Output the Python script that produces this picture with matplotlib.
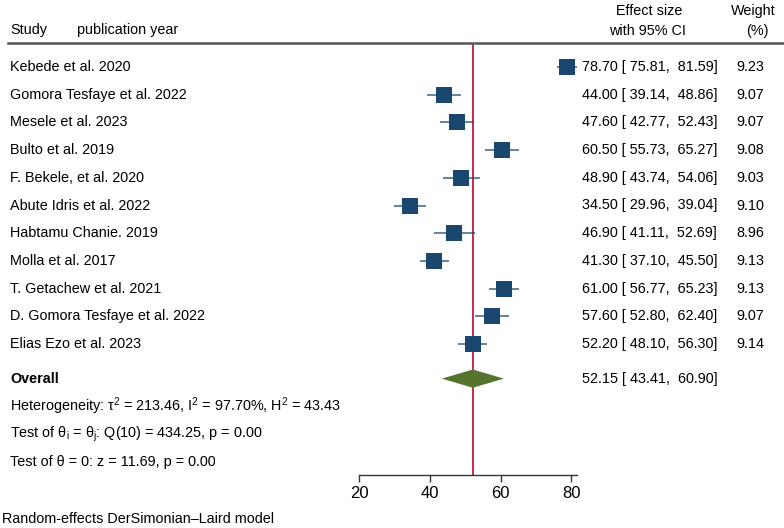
import matplotlib
matplotlib.use("Agg")
import matplotlib.pyplot as plt
import matplotlib.transforms as mtransforms
import numpy as np

studies = ["Kebede et al. 2020", "Gomora Tesfaye et al. 2022", "Mesele et al. 2023",
           "Bulto et al. 2019", "F. Bekele, et al. 2020", "Abute Idris et al. 2022",
           "Habtamu Chanie. 2019", "Molla et al. 2017", "T. Getachew et al. 2021",
           "D. Gomora Tesfaye et al. 2022", "Elias Ezo et al. 2023"]
effect = [78.70, 44.00, 47.60, 60.50, 48.90, 34.50, 46.90, 41.30, 61.00, 57.60, 52.20]
lower = [75.81, 39.14, 42.77, 55.73, 43.74, 29.96, 41.11, 37.10, 56.77, 52.80, 48.10]
upper = [81.59, 48.86, 52.43, 65.27, 54.06, 39.04, 52.69, 45.50, 65.23, 62.40, 56.30]
weight = [9.23, 9.07, 9.07, 9.08, 9.03, 9.10, 8.96, 9.13, 9.13, 9.07, 9.14]
overall = 52.15
overall_lo = 43.41
overall_hi = 60.90
xticks = [20, 40, 60, 80]

plt.rcParams['font.family'] = ['Liberation Sans', 'DejaVu Sans']
FS = 10.4

W, H = 784, 528
fig = plt.figure(figsize=(W / 100, H / 100), dpi=100)

# plot region in pixels
x0, x1 = 359, 577
ytop, ybot = 43, 475
ax = fig.add_axes([x0 / W, 1 - ybot / H, (x1 - x0) / W, (ybot - ytop) / H])
row0, rowstep = 67, 27.7
ax.set_xlim(20, max(upper))
ax.set_ylim((ybot - row0) / rowstep, (ytop - row0) / rowstep)

navy = "#1a476f"
green = "#55752f"
red = "#c10534"

ys = np.arange(len(studies))
for y, e, lo, hi, w in zip(ys, effect, lower, upper, weight):
    ax.plot([lo, hi], [y, y], color=navy, lw=1.1, alpha=0.85, solid_capstyle='butt', zorder=2)
    ax.plot([e], [y], marker='s', ms=11.8 * np.sqrt(w / 9.1), color=navy,
            mew=0, zorder=3, linestyle='none')

y_ov = 11.25
ax.fill([overall_lo, overall, overall_hi, overall],
        [y_ov, y_ov - 0.33, y_ov, y_ov + 0.33], color=green, lw=0, zorder=3)
ax.axvline(overall, color=red, lw=1.2, zorder=1)

for s in ['top', 'right', 'left']:
    ax.spines[s].set_visible(False)
ax.spines['bottom'].set_color('#333333')
ax.spines['bottom'].set_linewidth(1.0)
ax.set_yticks([])
ax.set_xticks(xticks)
ax.tick_params(axis='x', length=5, width=1.0, color='#333333', labelsize=12, pad=3)

tr = mtransforms.blended_transform_factory(fig.transFigure, ax.transData)
def px(x):
    return x / W

# header
fig.text(px(10), 1 - 30 / H, "Study", fontsize=FS, va='center', ha='left')
fig.text(px(77), 1 - 30 / H, "publication year", fontsize=FS, va='center', ha='left')
fig.text(px(649), 1 - 11 / H, "Effect size", fontsize=FS, va='center', ha='center')
fig.text(px(647), 1 - 31 / H, "with 95% CI", fontsize=FS, va='center', ha='center')
fig.text(px(753), 1 - 11 / H, "Weight", fontsize=FS, va='center', ha='center')
fig.text(px(757), 1 - 31 / H, "(%)", fontsize=FS, va='center', ha='center')
fig.add_artist(plt.Line2D([px(8), px(784)], [1 - 42.5 / H, 1 - 42.5 / H],
                          color='#555555', lw=1.8, transform=fig.transFigure))

for y, s, e, lo, hi, w in zip(ys, studies, effect, lower, upper, weight):
    ax.text(px(10), y, s, transform=tr, fontsize=FS, va='center', ha='left', clip_on=False)
    ax.text(px(582), y, f"{e:.2f} [ {lo:.2f},  {hi:.2f}]", transform=tr, fontsize=FS,
            va='center', ha='left', clip_on=False)
    ax.text(px(764), y, f"{w:.2f}", transform=tr, fontsize=FS, va='center', ha='right',
            clip_on=False)

ax.text(px(10), y_ov, "Overall", transform=tr, fontsize=FS, fontweight='bold',
        va='center', ha='left', clip_on=False)
ax.text(px(582), y_ov, f"{overall:.2f} [ {overall_lo:.2f},  {overall_hi:.2f}]", transform=tr,
        fontsize=FS, va='center', ha='left', clip_on=False)
ax.text(px(10), y_ov + 1.0, r"Heterogeneity: $\mathregular{\tau^2}$ = 213.46, $\mathregular{I^2}$ = 97.70%, $\mathregular{H^2}$ = 43.43",
        transform=tr, fontsize=FS, va='center', ha='left', clip_on=False)
ax.text(px(10), y_ov + 2.0, r"Test of $\mathregular{\theta_i}$ = $\mathregular{\theta_j}$: Q(10) = 434.25, p = 0.00",
        transform=tr, fontsize=FS, va='center', ha='left', clip_on=False)
ax.text(px(10), y_ov + 3.0, "Test of θ = 0: z = 11.69, p = 0.00",
        transform=tr, fontsize=FS, va='center', ha='left', clip_on=False)

fig.text(px(2), 1 - 519 / H, "Random-effects DerSimonian–Laird model", fontsize=FS,
         va='center', ha='left')

fig.savefig("out.png", dpi=100)
